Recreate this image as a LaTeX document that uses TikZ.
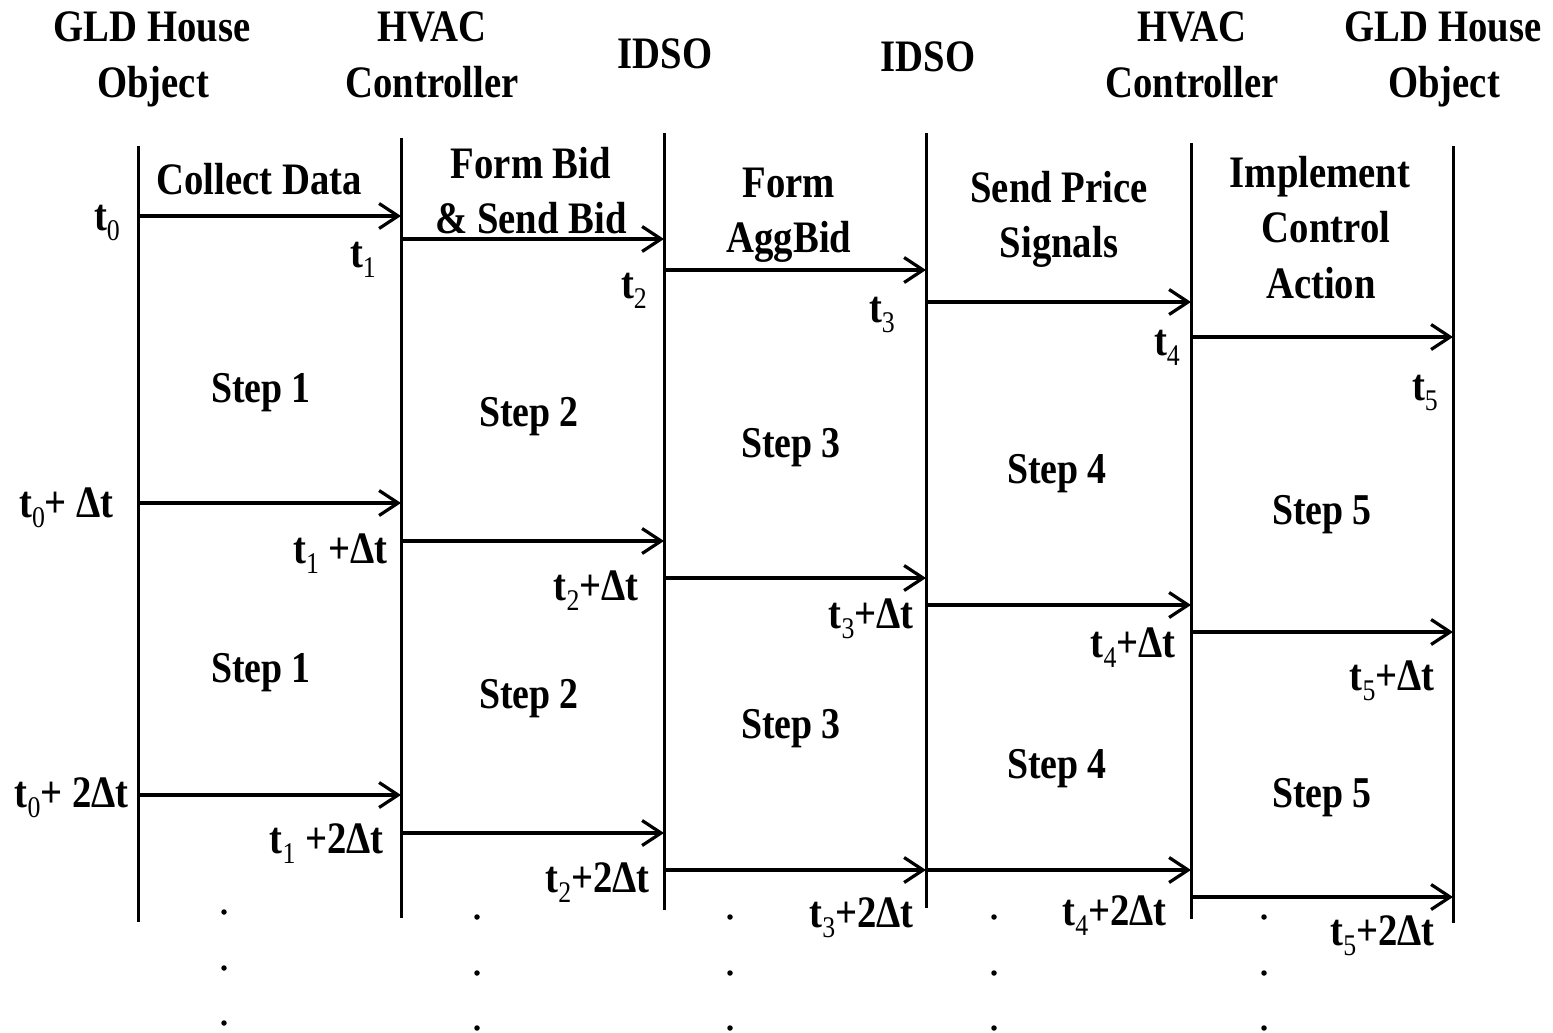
\documentclass[tikz,border=0pt]{standalone}
\usepackage{fontspec}
\setmainfont{Liberation Serif}[FakeStretch=0.86]
\usetikzlibrary{arrows.meta}
\newcommand\tsub[1]{\raisebox{-10pt}{\fontsize{30}{30}\selectfont\mdseries #1}}
\begin{document}
\begin{tikzpicture}[x=1pt,y=-1pt,
  life/.style={line width=3pt},
  msg/.style={line width=3.2pt,-{Straight Barb[length=19pt,width=25pt]}},
  bigtxt/.style={font=\fontsize{45}{45}\selectfont\bfseries, inner sep=0pt, anchor=base},
  tlab/.style={font=\fontsize{45}{45}\selectfont\bfseries, inner sep=0pt, anchor=base east},
  dlab/.style={font=\fontsize{45}{45}\selectfont\bfseries, inner sep=0pt, anchor=base east},
  steplab/.style={font=\fontsize{44}{44}\selectfont\bfseries, inner sep=0pt, anchor=base},
  dotmark/.style={circle, fill, inner sep=0pt, minimum size=5.5pt}
]
\useasboundingbox (0,0) rectangle (1553,1033);
\fill[white] (0,0) rectangle (1553,1033);

% titles
\node[bigtxt] (h0a) at (152,42) {GLD House};
\node[bigtxt] (h0b) at (153,97) {Object};
\node[bigtxt] (h1a) at (432,42) {HVAC};
\node[bigtxt] (h1b) at (432,97) {Controller};
\node[bigtxt] (h2) at (665,69) {IDSO};
\node[bigtxt] (h3) at (928,72) {IDSO};
\node[bigtxt] (h4a) at (1192,42) {HVAC};
\node[bigtxt] (h4b) at (1192,97) {Controller};
\node[bigtxt] (h5a) at (1443,42) {GLD House};
\node[bigtxt] (h5b) at (1444,97) {Object};

% lifelines
\coordinate (L0t) at (138,146); \coordinate (L0b) at (138,922);
\coordinate (L1t) at (401,138); \coordinate (L1b) at (401,918);
\coordinate (L2t) at (664,133); \coordinate (L2b) at (664,910);
\coordinate (L3t) at (926,133); \coordinate (L3b) at (926,908);
\coordinate (L4t) at (1191,143); \coordinate (L4b) at (1191,919);
\coordinate (L5t) at (1453,146); \coordinate (L5b) at (1453,923);
\foreach \i in {0,...,5} \draw[life] (L\i t) -- (L\i b);

% phase headers
\node[bigtxt] (p1) at (259,194) {Collect Data};
\node[bigtxt] (p2a) at (531,178) {Form Bid};
\node[bigtxt] (p2b) at (531,233) {\& Send Bid};
\node[bigtxt] (p3a) at (789,197) {Form};
\node[bigtxt] (p3b) at (789,252) {AggBid};
\node[bigtxt] (p4a) at (1059,202) {Send Price};
\node[bigtxt] (p4b) at (1059,257) {Signals};
\node[bigtxt] (p5a) at (1320,187) {Implement};
\node[bigtxt] (p5b) at (1326,242) {Control};
\node[bigtxt] (p5c) at (1321,298) {Action};

% message end points
\coordinate (a1s1) at (138,216); \coordinate (a1e1) at (401,216);
\coordinate (a1s2) at (138,503); \coordinate (a1e2) at (401,503);
\coordinate (a1s3) at (138,795); \coordinate (a1e3) at (401,795);
\coordinate (a2s1) at (401,239); \coordinate (a2e1) at (664,239);
\coordinate (a2s2) at (401,541); \coordinate (a2e2) at (664,541);
\coordinate (a2s3) at (401,833); \coordinate (a2e3) at (664,833);
\coordinate (a3s1) at (664,270); \coordinate (a3e1) at (926,270);
\coordinate (a3s2) at (664,578); \coordinate (a3e2) at (926,578);
\coordinate (a3s3) at (664,870); \coordinate (a3e3) at (926,870);
\coordinate (a4s1) at (926,302); \coordinate (a4e1) at (1191,302);
\coordinate (a4s2) at (926,605); \coordinate (a4e2) at (1191,605);
\coordinate (a4s3) at (926,870); \coordinate (a4e3) at (1191,870);
\coordinate (a5s1) at (1191,337); \coordinate (a5e1) at (1453,337);
\coordinate (a5s2) at (1191,632); \coordinate (a5e2) at (1453,632);
\coordinate (a5s3) at (1191,897); \coordinate (a5e3) at (1453,897);
\foreach \c in {1,...,5}
  \foreach \r in {1,2,3}
    \draw[msg] (a\c s\r) -- (a\c e\r);

% time labels
\node[tlab] (t0) at (120,230) {t\tsub{0}};
\node[tlab] (t1) at (376,267) {t\tsub{1}};
\node[tlab] (t2) at (647,298) {t\tsub{2}};
\node[tlab] (t3) at (895,322) {t\tsub{3}};
\node[tlab] (t4) at (1180,355) {t\tsub{4}};
\node[tlab] (t5) at (1438,400) {t\tsub{5}};

\node[dlab] (t0d) at (114,517) {t\tsub{0}+ Δt};
\node[dlab] (t1d) at (388,563) {t\tsub{1} +Δt};
\node[dlab] (t2d) at (639,600) {t\tsub{2}+Δt};
\node[dlab] (t3d) at (914,628) {t\tsub{3}+Δt};
\node[dlab] (t4d) at (1176,657) {t\tsub{4}+Δt};
\node[dlab] (t5d) at (1435,690) {t\tsub{5}+Δt};

\node[dlab] (t0dd) at (129,807) {t\tsub{0}+ 2Δt};
\node[dlab] (t1dd) at (384,853) {t\tsub{1} +2Δt};
\node[dlab] (t2dd) at (650,892) {t\tsub{2}+2Δt};
\node[dlab] (t3dd) at (914,927) {t\tsub{3}+2Δt};
\node[dlab] (t4dd) at (1167,925) {t\tsub{4}+2Δt};
\node[dlab] (t5dd) at (1435,945) {t\tsub{5}+2Δt};

% steps
\node[steplab] (s1a) at (261,402) {Step 1};
\node[steplab] (s1b) at (261,682) {Step 1};
\node[steplab] (s2a) at (529,426) {Step 2};
\node[steplab] (s2b) at (529,708) {Step 2};
\node[steplab] (s3a) at (791,457) {Step 3};
\node[steplab] (s3b) at (791,738) {Step 3};
\node[steplab] (s4a) at (1057,483) {Step 4};
\node[steplab] (s4b) at (1057,778) {Step 4};
\node[steplab] (s5a) at (1322,524) {Step 5};
\node[steplab] (s5b) at (1322,807) {Step 5};

% continuation dots
\node[dotmark] (d11) at (224,912) {};
\node[dotmark] (d12) at (224,968) {};
\node[dotmark] (d13) at (224,1023) {};
\node[dotmark] (d21) at (477,917) {};
\node[dotmark] (d22) at (477,973) {};
\node[dotmark] (d23) at (477,1028) {};
\node[dotmark] (d31) at (730,917) {};
\node[dotmark] (d32) at (730,973) {};
\node[dotmark] (d33) at (730,1028) {};
\node[dotmark] (d41) at (994,917) {};
\node[dotmark] (d42) at (994,973) {};
\node[dotmark] (d43) at (994,1028) {};
\node[dotmark] (d51) at (1264,917) {};
\node[dotmark] (d52) at (1264,973) {};
\node[dotmark] (d53) at (1264,1028) {};
\end{tikzpicture}
\end{document}
